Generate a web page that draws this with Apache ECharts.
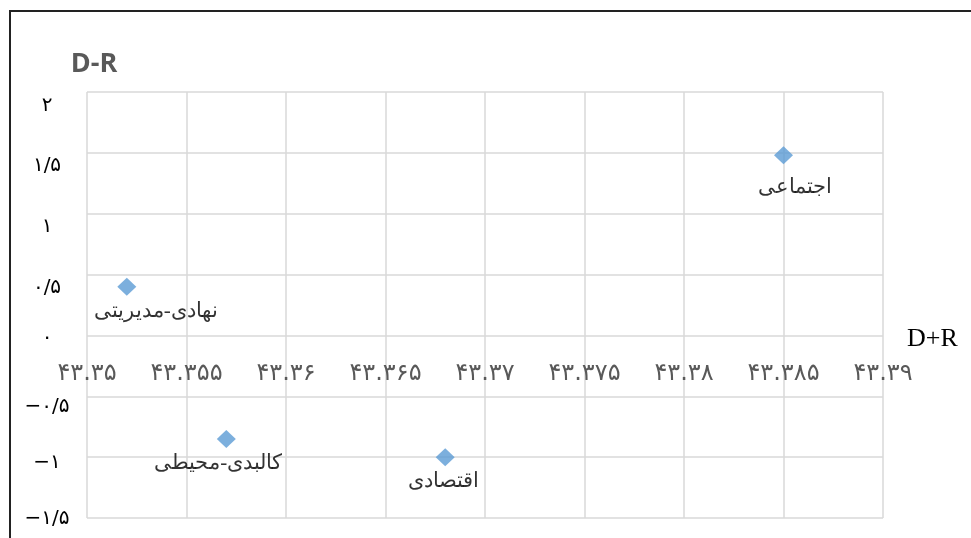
<!DOCTYPE html>
<html>
<head>
<meta charset="utf-8">
<script src="https://cdn.jsdelivr.net/npm/echarts@6/dist/echarts.min.js"></script>
<style>
html,body{margin:0;padding:0;background:#fff;}
#chart{width:971px;height:538px;}
</style>
</head>
<body>
<div id="chart"></div>
<script>
// ---- data ----
const names = ['نهادی-مدیریتی', 'کالبدی-محیطی', 'اقتصادی', 'اجتماعی'];
const xValues = [43.352, 43.357, 43.368, 43.385];
const yValues = [0.40, -0.85, -1.00, 1.48];
const xTickLabels = ['۴۳.۳۵','۴۳.۳۵۵','۴۳.۳۶','۴۳.۳۶۵','۴۳.۳۷','۴۳.۳۷۵','۴۳.۳۸','۴۳.۳۸۵','۴۳.۳۹'];
const yTickLabels = ['−۱/۵','−۱','−۰/۵','۰','۰/۵','۱','۱/۵','۲'];
const xAxisTitle = 'D+R';
const yAxisTitle = 'D-R';

// ---- layout (label nudges, not data) ----
const labelOffsets = [[29, 0], [-8, 0], [-2, 0], [11, 8]];
const yLabelNudge = [2, 12, 22, 4, 26, 26, 26, 28];

const xMin = 43.35, xMax = 43.39, xStep = 0.005;
const yMin = -1.5, yMax = 2, yStep = 0.5;

const gridTop = 92, gridBottom = 20, chartH = 538;
// place the x axis where y = 0 crosses the plot
const plotH = chartH - gridTop - gridBottom;
const zeroFromBottom = (0 - yMin) / (yMax - yMin) * plotH;

const chart = echarts.init(document.getElementById('chart'), null, {renderer: 'canvas'});

const seriesData = names.map((n, i) => ({
  name: n,
  value: [xValues[i], yValues[i]],
  label: {offset: labelOffsets[i]}
}));

const yRich = {};
yLabelNudge.forEach((p, i) => {
  yRich['t' + i] = {padding: [p, 0, 0, 0], fontSize: 20, color: '#000', fontFamily: "'DejaVu Sans', sans-serif"};
});

const gridColor = '#d9d9d9';

chart.setOption({
  backgroundColor: '#fff',
  animation: false,
  grid: {left: 87, right: 88, top: gridTop, bottom: gridBottom, containLabel: false, outerBoundsMode: 'none'},
  xAxis: {
    type: 'value',
    position: 'bottom',
    offset: -zeroFromBottom,
    min: xMin, max: xMax, interval: xStep,
    name: '{n|' + xAxisTitle + '}',
    nameLocation: 'end',
    nameGap: 24,
    nameTextStyle: {
      verticalAlign: 'middle',
      rich: {n: {fontFamily: "'Liberation Serif', serif", fontSize: 26, color: '#000', padding: [8, 0, 0, 0]}}
    },
    axisLine: {show: false, onZero: false},
    axisTick: {show: false},
    axisLabel: {
      margin: 26,
      fontSize: 24,
      color: '#595959',
      fontFamily: "'DejaVu Sans', sans-serif",
      formatter: v => xTickLabels[Math.round((v - xMin) / xStep)] ?? ''
    },
    splitLine: {show: true, lineStyle: {color: gridColor, width: 1.5}}
  },
  yAxis: {
    type: 'value',
    min: yMin, max: yMax, interval: yStep,
    name: yAxisTitle,
    nameLocation: 'end',
    nameGap: 14,
    nameTextStyle: {fontFamily: "'Open Sans', 'Liberation Sans', sans-serif", fontWeight: 'bold', fontSize: 27, color: '#595959', padding: [0, 0, 0, 14]},
    axisLine: {show: false, onZero: false},
    axisTick: {show: false},
    axisLabel: {
      margin: 40,
      align: 'center',
      verticalAlign: 'middle',
      fontSize: 20,
      color: '#000',
      fontFamily: "'DejaVu Sans', sans-serif",
      rich: yRich,
      formatter: v => {
        const i = Math.round((v - yMin) / yStep);
        return '{t' + i + '|' + (yTickLabels[i] ?? '') + '}';
      }
    },
    splitLine: {show: true, lineStyle: {color: gridColor, width: 1.5}}
  },
  series: [{
    type: 'scatter',
    symbol: 'diamond',
    symbolSize: [19, 18],
    itemStyle: {color: '#5b9bd5'},
    label: {
      show: true,
      position: 'bottom',
      distance: 5,
      formatter: p => p.name,
      fontSize: 21,
      color: '#000',
      fontFamily: "'Liberation Serif', 'DejaVu Serif', serif"
    },
    data: seriesData
  }],
  graphic: [
    {type: 'line', shape: {x1: 10, y1: 11, x2: 10, y2: 540}, style: {stroke: '#222', lineWidth: 2}},
    {type: 'line', shape: {x1: 9, y1: 11, x2: 975, y2: 11}, style: {stroke: '#222', lineWidth: 2}}
  ]
});
</script>
</body>
</html>
